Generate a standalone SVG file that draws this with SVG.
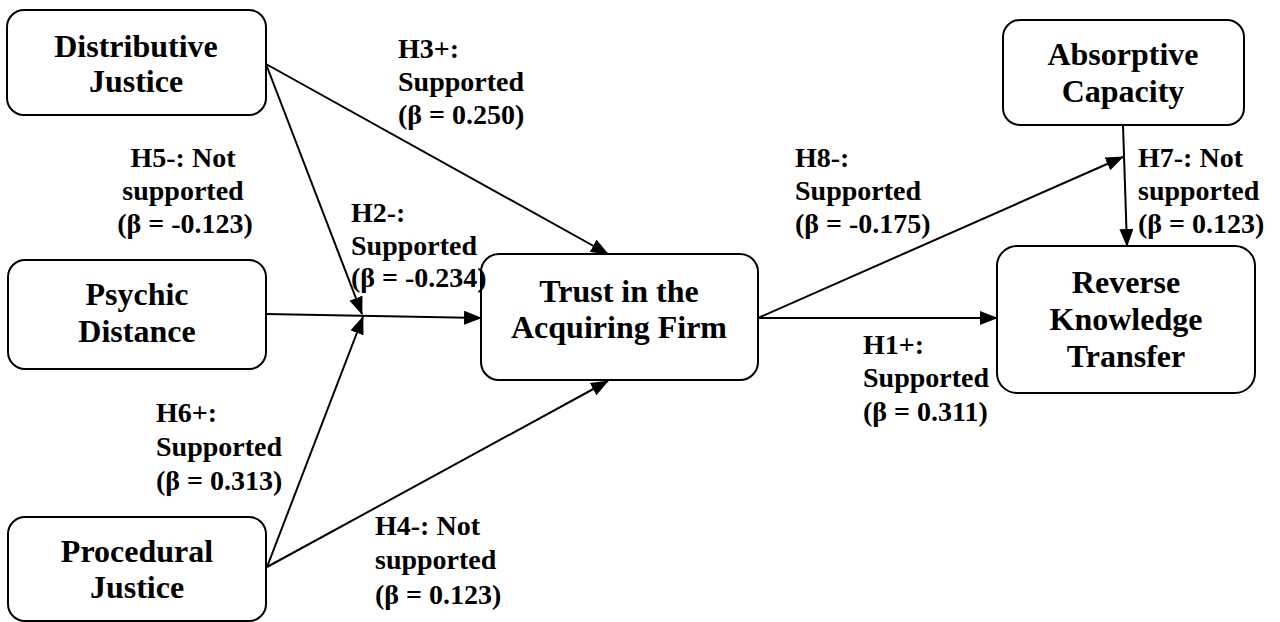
<svg xmlns="http://www.w3.org/2000/svg" width="1280" height="622" viewBox="0 0 1280 622">
<style>
.box{fill:#fff;stroke:#000;stroke-width:2}
.n{font-family:"Liberation Serif","Times New Roman",serif;font-weight:bold;font-size:32px;text-anchor:middle;fill:#000}
.l{font-family:"Liberation Serif","Times New Roman",serif;font-weight:bold;font-size:28px;fill:#000}
.c{fill:none;stroke:#000;stroke-width:2}
</style>
<defs>
<marker id="ah" markerUnits="userSpaceOnUse" markerWidth="18" markerHeight="14" refX="17" refY="7" orient="auto">
<path d="M0,0 L18,7 L0,14 Z" fill="#000"/>
</marker>
</defs>
<rect width="1280" height="622" fill="#fff"/>
<g id="connectors">
<line class="c" x1="266" y1="64" x2="608" y2="254" marker-end="url(#ah)"/>
<line class="c" x1="266" y1="64" x2="362" y2="314" marker-end="url(#ah)"/>
<line class="c" x1="266" y1="314" x2="481" y2="318" marker-end="url(#ah)"/>
<line class="c" x1="267" y1="567" x2="363" y2="317" marker-end="url(#ah)"/>
<line class="c" x1="267" y1="567" x2="608" y2="381" marker-end="url(#ah)"/>
<line class="c" x1="758" y1="318" x2="997" y2="318" marker-end="url(#ah)"/>
<line class="c" x1="758" y1="318" x2="1123" y2="157" marker-end="url(#ah)"/>
<line class="c" x1="1123" y1="125" x2="1127" y2="246" marker-end="url(#ah)"/>
</g>
<g id="distributive">
<rect class="box" x="7" y="10" width="259" height="105" rx="17"/>
<text class="n" x="136" y="57">Distributive</text>
<text class="n" x="136" y="92">Justice</text>
</g>
<g id="psychic">
<rect class="box" x="8" y="260" width="258" height="109" rx="17"/>
<text class="n" x="137" y="305">Psychic</text>
<text class="n" x="137" y="342">Distance</text>
</g>
<g id="procedural">
<rect class="box" x="8" y="517" width="258" height="104" rx="17"/>
<text class="n" x="137" y="562">Procedural</text>
<text class="n" x="137" y="598">Justice</text>
</g>
<g id="trust">
<rect class="box" x="481" y="254" width="277" height="126" rx="18"/>
<text class="n" x="619" y="302">Trust in the</text>
<text class="n" x="619" y="338">Acquiring Firm</text>
</g>
<g id="absorptive">
<rect class="box" x="1003" y="20" width="241" height="105" rx="17"/>
<text class="n" x="1123" y="65">Absorptive</text>
<text class="n" x="1123" y="102">Capacity</text>
</g>
<g id="reverse">
<rect class="box" x="997" y="246" width="258" height="147" rx="20"/>
<text class="n" x="1126" y="293">Reverse</text>
<text class="n" x="1126" y="330">Knowledge</text>
<text class="n" x="1126" y="367">Transfer</text>
</g>
<g id="labels">
<text class="l" x="398" y="58">H3+:</text>
<text class="l" x="398" y="91">Supported</text>
<text class="l" x="398" y="124">(β = 0.250)</text>
<text class="l" x="183" y="167" text-anchor="middle">H5-: Not</text>
<text class="l" x="183" y="200" text-anchor="middle">supported</text>
<text class="l" x="185" y="233" text-anchor="middle">(β = -0.123)</text>
<text class="l" x="351" y="222">H2-:</text>
<text class="l" x="351" y="255">Supported</text>
<text class="l" x="351" y="287">(β = -0.234)</text>
<text class="l" x="156" y="422">H6+:</text>
<text class="l" x="156" y="456">Supported</text>
<text class="l" x="156" y="490">(β = 0.313)</text>
<text class="l" x="375" y="535">H4-: Not</text>
<text class="l" x="375" y="569">supported</text>
<text class="l" x="375" y="604">(β = 0.123)</text>
<text class="l" x="795" y="167">H8-:</text>
<text class="l" x="795" y="200">Supported</text>
<text class="l" x="795" y="233">(β = -0.175)</text>
<text class="l" x="1138" y="167">H7-: Not</text>
<text class="l" x="1138" y="200">supported</text>
<text class="l" x="1138" y="233">(β = 0.123)</text>
<text class="l" x="863" y="354">H1+:</text>
<text class="l" x="863" y="387">Supported</text>
<text class="l" x="863" y="421">(β = 0.311)</text>
</g>
</svg>
